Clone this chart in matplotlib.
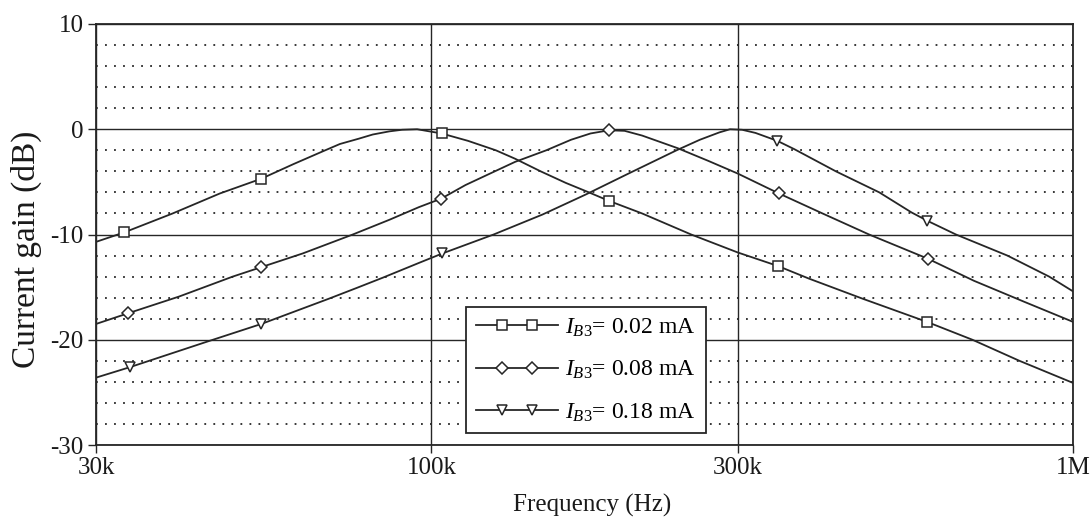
import matplotlib
matplotlib.use("Agg")
import matplotlib.pyplot as plt
import numpy as np
from matplotlib.legend_handler import HandlerLine2D
from matplotlib.lines import Line2D
from matplotlib.ticker import MultipleLocator, NullLocator

plt.rcParams["font.family"] = ["Liberation Serif", "DejaVu Serif"]
plt.rcParams["mathtext.fontset"] = "custom"
plt.rcParams["mathtext.rm"] = "Liberation Serif"
plt.rcParams["mathtext.it"] = "Liberation Serif:italic"
plt.rcParams["axes.unicode_minus"] = False

# frequency in kHz, gain in dB
f_002 = [30, 33.2, 39.5, 46.8, 54.3, 61, 67.7, 72, 77, 81, 86, 90, 95, 103.7, 114, 126, 135, 148,
         162, 176, 189, 213, 254, 300, 347, 388, 470, 592, 697, 825, 1000]
g_002 = [-10.7, -9.8, -8.0, -6.1, -4.7, -3.3, -2.1, -1.4, -0.9, -0.5, -0.2, -0.05, 0.0, -0.4, -1.1, -2.0, -2.8, -4.0,
         -5.1, -6.0, -6.8, -8.0, -10.0, -11.7, -13.0, -14.2, -16.1, -18.3, -20.0, -22.0, -24.1]

f_008 = [30, 33.6, 40.4, 49, 54.3, 63, 75.4, 86, 95.6, 103.5, 113, 124.5, 135, 151, 165, 177, 189,
         200, 213, 242, 270, 300, 348, 407, 481, 594, 701, 840, 1000]
g_008 = [-18.5, -17.5, -15.9, -14.0, -13.1, -11.8, -10.0, -8.6, -7.4, -6.6, -5.3, -4.1, -3.1, -2.0, -1.0, -0.4, -0.1,
         -0.15, -0.6, -1.8, -3.0, -4.2, -6.1, -8.0, -10.0, -12.3, -14.4, -16.4, -18.3]

f_018 = [30, 33.9, 44.6, 54.3, 69.2, 76.3, 84, 95.6, 104, 125, 149, 174, 203, 241, 262,
         281, 292, 305, 320, 346, 368, 427, 499, 560, 593, 657, 790, 918, 1000]
g_018 = [-23.6, -22.6, -20.2, -18.5, -16.1, -15.1, -14.1, -12.7, -11.8, -10.0, -8.1, -6.2, -4.2, -2.0, -1.0,
         -0.3, 0.0, -0.05, -0.35, -1.1, -1.9, -4.0, -6.0, -7.9, -8.7, -10.0, -12.0, -14.0, -15.4]

# marker positions
mf_002 = [33.2, 54.3, 103.7, 189, 347, 592]
mg_002 = [-9.8, -4.7, -0.4, -6.8, -13.0, -18.3]
mf_008 = [33.6, 54.3, 103.5, 189, 348, 594]
mg_008 = [-17.5, -13.1, -6.6, -0.1, -6.1, -12.3]
mf_018 = [33.9, 54.3, 104, 346, 593]
mg_018 = [-22.6, -18.5, -11.8, -1.1, -8.7]

labels = [r"$I_{B\mathit{3}}$= 0.02 mA", r"$I_{B\mathit{3}}$= 0.08 mA", r"$I_{B\mathit{3}}$= 0.18 mA"]
markers = ["s", "D", "v"]
msizes = [7, 6, 7.5]

xticks = [30e3, 100e3, 300e3, 1e6]
xticklabels = ["30k", "100k", "300k", "1M"]
yticks = [-30, -20, -10, 0, 10]

INK = "#262626"
TXT = "#1a1a1a"


class _InnerMarkers(HandlerLine2D):
    # line runs across the whole handle, the two markers sit inside it
    def create_artists(self, legend, orig_handle, xdescent, ydescent, width, height, fontsize, trans):
        x0 = -xdescent
        xdata = np.array([x0, x0 + 0.32 * width, x0 + 0.68 * width, x0 + width])
        ydata = np.full_like(xdata, (height - ydescent) / 2)
        line = Line2D(xdata, ydata)
        self.update_prop(line, orig_handle, legend)
        line.set_markevery([1, 2])
        line.set_transform(trans)
        return [line]


fig = plt.figure(figsize=(10.91, 5.23), dpi=100)
ax = fig.add_axes([96 / 1091, 78 / 523, 977 / 1091, 421 / 523])

series = [
    (f_002, g_002, mf_002, mg_002),
    (f_008, g_008, mf_008, mg_008),
    (f_018, g_018, mf_018, mg_018),
]
handles = []
for (f, g, mf, mg), mk, ms, lab in zip(series, markers, msizes, labels):
    ax.plot([v * 1e3 for v in f], g, color=INK, lw=1.3, zorder=3)
    ax.plot([v * 1e3 for v in mf], mg, ls="none", marker=mk, ms=ms, mfc="white",
            mec=INK, mew=1.1, zorder=4)
    handles.append(Line2D([], [], color=INK, lw=1.3, marker=mk, ms=ms, mfc="white",
                          mec=INK, mew=1.1, label=lab))

ax.set_xscale("log")
ax.set_xlim(30e3, 1e6)
ax.set_ylim(-30, 10)
ax.set_xticks(xticks)
ax.set_xticklabels(xticklabels)
ax.xaxis.set_minor_locator(NullLocator())
ax.set_yticks(yticks)
ax.yaxis.set_minor_locator(MultipleLocator(2))

ax.grid(which="major", axis="both", color=INK, lw=1.0, ls="-", zorder=1)
ax.grid(which="minor", axis="y", color=INK, lw=1.3, ls=(0, (1, 4)), zorder=1)
ax.set_axisbelow(True)

ax.tick_params(which="major", direction="out", length=6, width=1.0, color=INK,
               labelsize=18, pad=3, labelcolor=TXT)
ax.tick_params(which="minor", length=0)
for sp in ax.spines.values():
    sp.set_color(INK)
    sp.set_linewidth(1.3)

ax.set_xlabel("Frequency (Hz)", fontsize=18, color=TXT)
ax.set_ylabel("Current gain (dB)", fontsize=24, color=TXT)
ax.xaxis.set_label_coords(0.508, -0.115)
ax.yaxis.set_label_coords(-0.055, 0.466)

leg = ax.legend(handles=handles, loc="lower left", bbox_to_anchor=(0.379, 0.028, 0.245, 0.288),
                mode="expand", handler_map={Line2D: _InnerMarkers()}, handlelength=3.5,
                handletextpad=0.3, fontsize=17, labelspacing=0.85, borderpad=0.4,
                borderaxespad=0, fancybox=False, framealpha=1, edgecolor=INK)
leg.get_frame().set_linewidth(1.3)
leg.set_zorder(5)

fig.savefig("out.png", dpi=100, facecolor="white")
